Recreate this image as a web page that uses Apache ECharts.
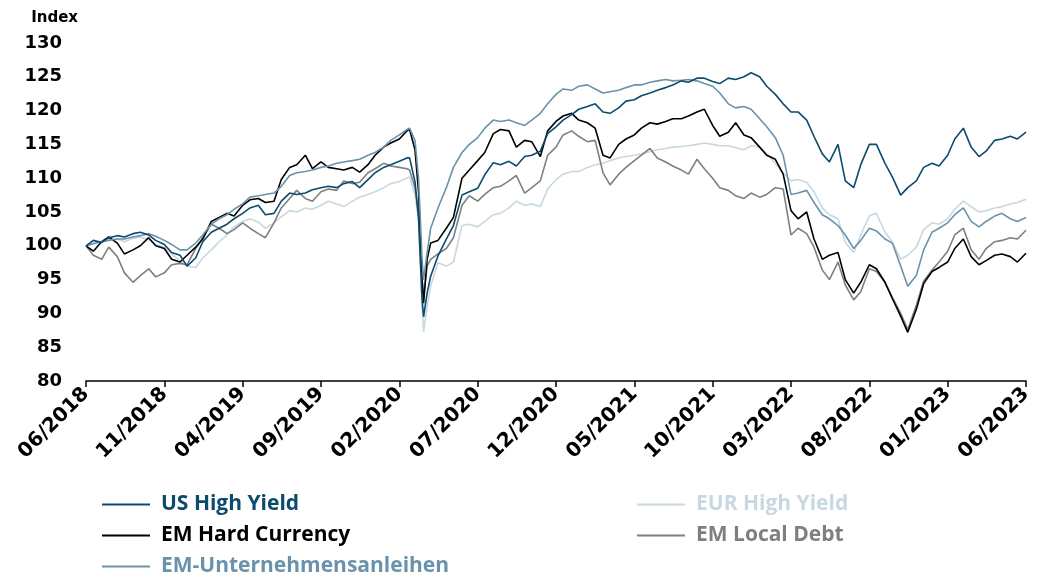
<!DOCTYPE html>
<html>
<head>
<meta charset="utf-8">
<script src="https://cdn.jsdelivr.net/npm/echarts@6/dist/echarts.min.js"></script>
<style>
  html, body { margin: 0; padding: 0; background: #fff; }
  #chart { width: 1043px; height: 577px; }
</style>
</head>
<body>
<div id="chart"></div>
<script>
// half-monthly observation dates (extra points around the March 2020 sell-off)
var dates = [
  '2018-06-01', '2018-06-15', '2018-07-01', '2018-07-15', '2018-08-01', '2018-08-15', '2018-09-01', '2018-09-15', '2018-10-01', '2018-10-15', '2018-11-01', '2018-11-15', '2018-12-01', '2018-12-15',
  '2019-01-01', '2019-01-15', '2019-02-01', '2019-02-15', '2019-03-01', '2019-03-15', '2019-04-01', '2019-04-15', '2019-05-01', '2019-05-15', '2019-06-01', '2019-06-15', '2019-07-01', '2019-07-15', '2019-08-01', '2019-08-15', '2019-09-01', '2019-09-15', '2019-10-01', '2019-10-15', '2019-11-01', '2019-11-15', '2019-12-01', '2019-12-15',
  '2020-01-01', '2020-01-15', '2020-02-01', '2020-02-15', '2020-02-20', '2020-03-01', '2020-03-08', '2020-03-15', '2020-03-18', '2020-03-25', '2020-04-01', '2020-04-15', '2020-05-01', '2020-05-15', '2020-06-01', '2020-06-15', '2020-07-01', '2020-07-15', '2020-08-01', '2020-08-15', '2020-09-01', '2020-09-15', '2020-10-01', '2020-10-15', '2020-11-01', '2020-11-15', '2020-12-01', '2020-12-15',
  '2021-01-01', '2021-01-15', '2021-02-01', '2021-02-15', '2021-03-01', '2021-03-15', '2021-04-01', '2021-04-15', '2021-05-01', '2021-05-15', '2021-06-01', '2021-06-15', '2021-07-01', '2021-07-15', '2021-08-01', '2021-08-15', '2021-09-01', '2021-09-15', '2021-10-01', '2021-10-15', '2021-11-01', '2021-11-15', '2021-12-01', '2021-12-15',
  '2022-01-01', '2022-01-15', '2022-02-01', '2022-02-15', '2022-03-01', '2022-03-15', '2022-04-01', '2022-04-15', '2022-05-01', '2022-05-15', '2022-06-01', '2022-06-15', '2022-07-01', '2022-07-15', '2022-08-01', '2022-08-15', '2022-09-01', '2022-09-15', '2022-10-01', '2022-10-15', '2022-11-01', '2022-11-15', '2022-12-01', '2022-12-15',
  '2023-01-01', '2023-01-15', '2023-02-01', '2023-02-15', '2023-03-01', '2023-03-15', '2023-04-01', '2023-04-15', '2023-05-01', '2023-05-15', '2023-06-01'
]

var usHighYield = [
  100, 100.8, 100.5, 101.2, 101.5, 101.3, 101.8, 102.0, 101.6, 100.8, 100.2, 99.0, 98.6, 97.0,
  98.2, 100.6, 102.0, 102.6, 103.2, 104.0, 104.8, 105.6, 106.0, 104.6, 104.8, 106.6, 107.8, 107.6, 107.8, 108.3, 108.6, 108.8, 108.6, 109.2, 109.5, 108.6, 109.8, 110.8,
  111.6, 112.0, 112.5, 113.0, 113.0, 109.5, 104.0, 92.0, 89.5, 93.0, 95.5, 98.5, 101.0, 103.0, 107.5, 108.0, 108.5, 110.5, 112.3, 112.0, 112.5, 111.8, 113.2, 113.4, 114.0, 116.6, 117.6, 118.6,
  119.4, 120.2, 120.6, 121.0, 119.8, 119.6, 120.4, 121.4, 121.6, 122.2, 122.6, 123.0, 123.4, 123.8, 124.4, 124.2, 124.8, 124.8, 124.3, 124.0, 124.8, 124.6, 125.0, 125.6,
  125.0, 123.6, 122.4, 121.0, 119.8, 119.8, 118.6, 116.2, 113.6, 112.4, 115.0, 109.6, 108.6, 112.0, 115.0, 115.0, 112.2, 110.2, 107.5, 108.6, 109.6, 111.6, 112.2, 111.8,
  113.4, 115.8, 117.4, 114.6, 113.2, 114.0, 115.6, 115.8, 116.2, 115.8, 116.8
]
var eurHighYield = [
  100.0, 100.4, 100.6, 100.9, 101.0, 100.6, 101.1, 101.3, 100.9, 100.2, 99.8, 98.8, 97.8, 97.0,
  96.8, 98.2, 99.4, 100.6, 101.6, 102.8, 103.6, 104.0, 103.5, 102.6, 103.4, 104.3, 105.2, 105.0, 105.6, 105.4, 106.0, 106.6, 106.2, 105.8, 106.6, 107.2, 107.6, 108.0,
  108.6, 109.2, 109.5, 110.0, 110.2, 107.5, 104.0, 91.0, 87.3, 91.0, 94.0, 97.5, 97.0, 97.6, 103.0, 103.2, 102.8, 103.6, 104.6, 104.8, 105.6, 106.6, 106.0, 106.2, 105.8, 108.4, 109.8, 110.6,
  111.0, 111.0, 111.6, 112.0, 112.2, 112.6, 113.0, 113.2, 113.4, 113.6, 113.9, 114.2, 114.4, 114.6, 114.7, 114.8, 115.0, 115.2, 115.0, 114.8, 114.8, 114.5, 114.2, 114.8,
  114.6, 113.6, 112.2, 110.8, 109.6, 109.8, 109.4, 108.0, 105.6, 104.6, 104.0, 100.5, 99.0, 101.6, 104.4, 104.8, 102.0, 100.6, 98.0, 98.6, 99.8, 102.4, 103.4, 103.2,
  104.0, 105.4, 106.6, 105.8, 105.0, 105.2, 105.6, 105.8, 106.2, 106.4, 106.9
]
var emHardCurrency = [
  100.0, 99.2, 100.6, 101.3, 100.4, 98.8, 99.4, 100.0, 101.2, 100.0, 99.6, 98.0, 97.6, 98.6,
  99.8, 101.0, 103.6, 104.2, 104.8, 104.4, 106.0, 106.8, 107.0, 106.4, 106.6, 109.8, 111.6, 112.0, 113.4, 111.4, 112.4, 111.6, 111.4, 111.2, 111.6, 110.9, 112.0, 113.4,
  114.6, 115.2, 115.8, 117.0, 117.2, 114.2, 108.0, 95.0, 91.5, 98.0, 100.4, 100.8, 102.6, 104.2, 110.0, 111.2, 112.6, 113.8, 116.6, 117.2, 117.0, 114.6, 115.6, 115.4, 113.2, 117.0, 118.4, 119.2,
  119.6, 118.6, 118.2, 117.4, 113.4, 113.0, 115.0, 115.8, 116.4, 117.4, 118.2, 118.0, 118.4, 118.8, 118.8, 119.2, 119.8, 120.2, 117.8, 116.2, 116.8, 118.2, 116.4, 116.0,
  114.6, 113.4, 112.8, 110.6, 105.2, 104.0, 105.0, 101.0, 98.0, 98.6, 99.0, 95.0, 93.0, 94.6, 97.2, 96.6, 94.6, 92.2, 89.6, 87.2, 90.6, 94.4, 96.2, 96.8,
  97.6, 99.6, 101.0, 98.4, 97.2, 97.8, 98.6, 98.8, 98.4, 97.6, 98.9
]
var emLocalDebt = [
  100.0, 98.6, 98.0, 99.8, 98.4, 96.0, 94.6, 95.6, 96.6, 95.4, 96.0, 97.2, 97.4, 97.2,
  99.6, 101.2, 103.2, 102.6, 101.8, 102.4, 103.4, 102.6, 101.8, 101.2, 103.4, 105.6, 107.0, 108.2, 107.0, 106.6, 108.0, 108.4, 108.2, 109.6, 109.2, 109.4, 110.8, 111.4,
  112.2, 111.8, 111.6, 111.4, 111.2, 108.6, 105.0, 95.0, 92.5, 97.0, 98.0, 98.8, 99.6, 101.2, 106.0, 107.4, 106.6, 107.6, 108.6, 108.8, 109.6, 110.4, 107.8, 108.6, 109.6, 113.4, 114.6, 116.4,
  117.0, 116.2, 115.4, 115.6, 110.8, 109.0, 110.6, 111.6, 112.6, 113.4, 114.4, 113.0, 112.4, 111.8, 111.2, 110.6, 112.8, 111.4, 110.0, 108.6, 108.2, 107.4, 107.0, 107.8,
  107.2, 107.6, 108.6, 108.4, 101.6, 102.6, 101.8, 99.8, 96.4, 95.0, 97.6, 94.2, 92.0, 93.2, 96.6, 96.2, 94.6, 92.4, 90.0, 87.6, 91.2, 94.8, 96.4, 97.6,
  99.2, 101.6, 102.6, 99.4, 98.0, 99.6, 100.6, 100.8, 101.2, 101.0, 102.3
]
var emCorporates = [
  100.0, 100.3, 100.6, 100.8, 101.0, 101.0, 101.3, 101.5, 101.8, 101.4, 100.8, 100.2, 99.4, 99.4,
  100.4, 101.6, 103.2, 104.0, 104.6, 105.4, 106.2, 107.2, 107.4, 107.6, 107.8, 108.8, 110.4, 110.8, 111.0, 111.2, 111.6, 111.8, 112.2, 112.4, 112.6, 112.8, 113.4, 113.8,
  114.6, 115.6, 116.4, 117.2, 117.4, 115.6, 110.0, 98.0, 95.0, 99.0, 102.6, 105.6, 108.6, 111.6, 113.8, 115.0, 116.0, 117.4, 118.6, 118.4, 118.6, 118.2, 117.8, 118.6, 119.6, 121.0, 122.4, 123.2,
  123.0, 123.6, 123.8, 123.2, 122.6, 122.8, 123.0, 123.4, 123.8, 123.8, 124.2, 124.4, 124.6, 124.4, 124.5, 124.6, 124.4, 124.0, 123.6, 122.6, 121.0, 120.4, 120.6, 120.2,
  118.8, 117.6, 116.0, 113.4, 107.6, 107.8, 108.2, 106.4, 104.6, 104.0, 103.0, 101.6, 99.6, 100.8, 102.6, 102.2, 101.0, 100.4, 97.0, 94.0, 95.6, 99.4, 102.0, 102.6,
  103.4, 104.6, 105.6, 103.6, 102.8, 103.6, 104.4, 104.8, 104.0, 103.6, 104.2
]

var seriesNames = ['US High Yield', 'EUR High Yield', 'EM Hard Currency', 'EM Local Debt', 'EM-Unternehmensanleihen']
var seriesColors = ['#0c4a6e', '#c8d8e1', '#000000', '#7f7f7f', '#6a93ab']

var chart = echarts.init(document.getElementById('chart'), null, { renderer: 'canvas' })

// month offset from 06/2018, so the axis can tick every 5 months
function monthPos(d) {
  var p = d.split('-')
  var y = +p[0], m = +p[1], day = +p[2]
  var dim = new Date(y, m, 0).getDate()
  return (y - 2018) * 12 + (m - 6) + (day - 1) / dim
}

function toPairs(values) {
  return values.map(function(v, i) {
    return [monthPos(dates[i]), v]
  })
}

var allValues = [usHighYield, eurHighYield, emHardCurrency, emLocalDebt, emCorporates]
var drawOrder = [1, 3, 2, 4, 0]
var series = drawOrder.map(function(k) {
  return {
    type: 'line',
    name: seriesNames[k],
    showSymbol: false,
    symbol: 'none',
    color: seriesColors[k],
    lineStyle: { width: 1.6, color: seriesColors[k] },
    data: toPairs(allValues[k])
  }
})

// one legend block per entry: two columns, three rows
var legendSpots = [
  { k: 0, left: 97, top: 489 },
  { k: 2, left: 97, top: 520 },
  { k: 4, left: 97, top: 551 },
  { k: 1, left: 632, top: 489 },
  { k: 3, left: 632, top: 520 }
]
var legends = legendSpots.map(function(s) {
  return {
    left: s.left,
    top: s.top,
    icon: 'rect',
    itemWidth: 48,
    itemHeight: 2,
    selectedMode: false,
    data: [{ name: seriesNames[s.k], textStyle: { color: seriesColors[s.k] } }],
    textStyle: {
      fontFamily: 'Open Sans',
      fontWeight: 'bold',
      fontSize: 21,
      padding: [0, 0, 0, 6]
    }
  }
})

var option = {
  animation: false,
  backgroundColor: '#fff',
  grid: {
    left: 86,
    right: 17,
    top: 43,
    bottom: 196
  },
  legend: legends,
  xAxis: {
    type: 'value',
    min: 0,
    max: 60,
    interval: 5,
    splitLine: { show: false },
    axisLine: { show: true, lineStyle: { color: '#000', width: 1.5 } },
    axisTick: { show: true, length: 6, lineStyle: { color: '#000', width: 1.5 } },
    axisLabel: {
      rotate: 45,
      margin: 10,
      color: '#000',
      fontFamily: 'DejaVu Sans',
      fontWeight: 'bold',
      fontSize: 20,
      formatter: function(v) {
        var total = 5 + v
        var y = 2018 + Math.floor(total / 12)
        var m = total % 12 + 1
        return (m < 10 ? '0' + m : m) + '/' + y
      }
    }
  },
  yAxis: {
    type: 'value',
    min: 80,
    max: 130,
    interval: 5,
    name: 'Index',
    nameLocation: 'end',
    nameGap: 17,
    nameTextStyle: {
      color: '#000',
      fontFamily: 'DejaVu Sans',
      fontWeight: 'bold',
      fontSize: 15,
      align: 'right',
      padding: [0, 8, 0, 0]
    },
    splitLine: { show: false },
    axisLine: { show: false },
    axisTick: { show: false },
    axisLabel: {
      margin: 24,
      color: '#000',
      fontFamily: 'DejaVu Sans',
      fontWeight: 'bold',
      fontSize: 18
    }
  },
  series: series
}

chart.setOption(option)
</script>
</body>
</html>
